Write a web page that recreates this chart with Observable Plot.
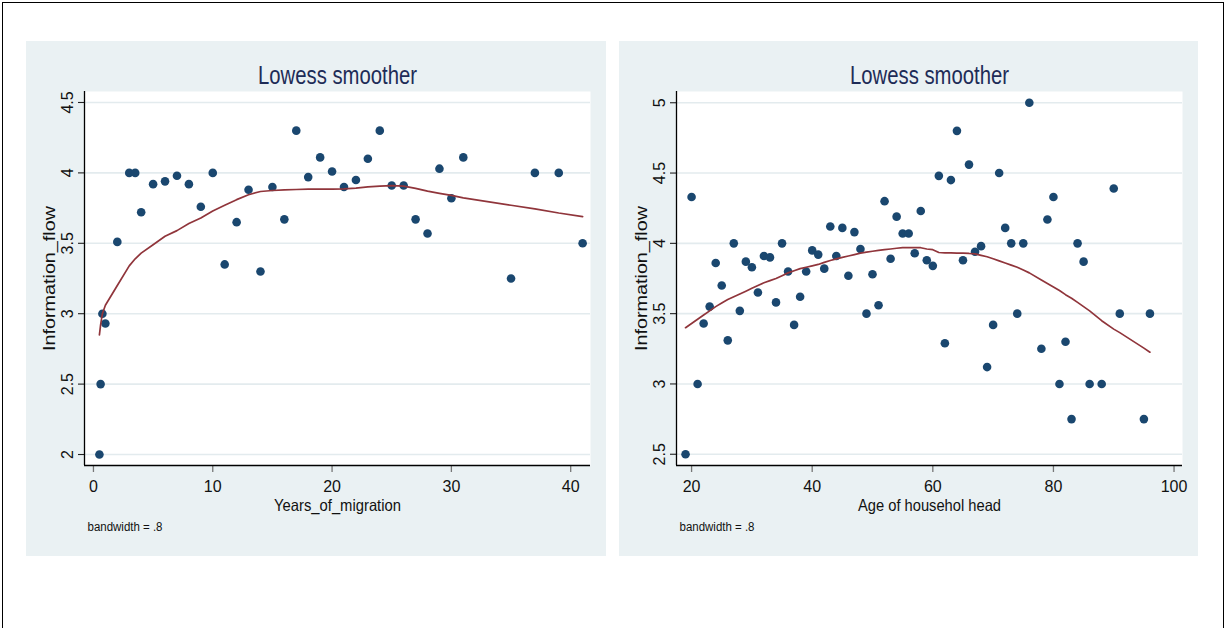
<!DOCTYPE html>
<html>
<head>
<meta charset="utf-8">
<script src="https://cdn.jsdelivr.net/npm/d3@7"></script>
<script src="https://cdn.jsdelivr.net/npm/@observablehq/plot@0.6"></script>
<style>
  html, body { margin: 0; padding: 0; background: #fff; }
  #page { position: relative; width: 1225px; height: 628px; overflow: hidden; }
  #frame { position: absolute; left: 2px; top: 2px; width: 1220px; height: 640px; border: 1px solid #000; }
  .panel { position: absolute; top: 41px; }
  #left { left: 26px; }
  #right { left: 619px; }
  .panel svg { display: block; }
</style>
</head>
<body>
<div id="page">
  <div id="frame"></div>
  <div class="panel" id="left"></div>
  <div class="panel" id="right"></div>
</div>
<script>
// ---- Left panel data: Years_of_migration vs Information_flow ----
const years = [0.5, 0.6, 0.75, 1, 2, 3, 3.5, 4, 5, 6, 7, 8, 9, 10, 11, 12, 13, 14, 15, 16, 17, 18, 19, 20, 21, 22, 23, 24, 25, 26, 27, 28, 29, 30, 31, 35, 37, 39, 41];
const flowA = [2.0, 2.5, 3.0, 2.93, 3.51, 4.0, 4.0, 3.72, 3.92, 3.94, 3.98, 3.92, 3.76, 4.0, 3.35, 3.65, 3.88, 3.3, 3.9, 3.67, 4.3, 3.97, 4.11, 4.01, 3.9, 3.95, 4.1, 4.3, 3.91, 3.91, 3.67, 3.57, 4.03, 3.82, 4.11, 3.25, 4.0, 4.0, 3.5];
const lowessA = [2.85, 2.92, 3.0, 3.06, 3.2, 3.34, 3.39, 3.43, 3.49, 3.55, 3.59, 3.64, 3.68, 3.73, 3.77, 3.81, 3.845, 3.868, 3.875, 3.88, 3.882, 3.884, 3.884, 3.884, 3.886, 3.892, 3.9, 3.906, 3.91, 3.906, 3.89, 3.87, 3.855, 3.84, 3.823, 3.77, 3.745, 3.715, 3.69];
const xTicksA = [0, 10, 20, 30, 40];
const yTicksA = [2, 2.5, 3, 3.5, 4, 4.5];
const xDomainA = [-0.75, 41.66];
const yDomainA = [1.922, 4.578];

// ---- Right panel data: Age of househol head vs Information_flow ----
const age = [19, 20, 21, 22, 23, 24, 25, 26, 27, 28, 29, 30, 31, 32, 33, 34, 35, 36, 37, 38, 39, 40, 41, 42, 43, 44, 45, 46, 47, 48, 49, 50, 51, 52, 53, 54, 55, 56, 57, 58, 59, 60, 61, 62, 63, 64, 65, 66, 67, 68, 69, 70, 71, 72, 73, 74, 75, 76, 78, 79, 80, 81, 82, 83, 84, 85, 86, 88, 90, 91, 95, 96];
const flowB = [2.5, 4.33, 3.0, 3.43, 3.55, 3.86, 3.7, 3.31, 4.0, 3.52, 3.87, 3.83, 3.65, 3.91, 3.9, 3.58, 4.0, 3.8, 3.42, 3.62, 3.8, 3.95, 3.92, 3.82, 4.12, 3.91, 4.11, 3.77, 4.08, 3.96, 3.5, 3.78, 3.56, 4.3, 3.89, 4.19, 4.07, 4.07, 3.93, 4.23, 3.88, 3.84, 4.48, 3.29, 4.45, 4.8, 3.88, 4.56, 3.94, 3.98, 3.12, 3.42, 4.5, 4.11, 4.0, 3.5, 4.0, 5.0, 3.25, 4.17, 4.33, 3.0, 3.3, 2.75, 4.0, 3.87, 3.0, 3.0, 4.39, 3.5, 2.75, 3.5];
const lowessB = [3.4, 3.43, 3.46, 3.49, 3.52, 3.55, 3.575, 3.6, 3.62, 3.64, 3.66, 3.68, 3.7, 3.72, 3.735, 3.75, 3.77, 3.79, 3.805, 3.82, 3.83, 3.84, 3.85, 3.865, 3.878, 3.89, 3.9, 3.91, 3.92, 3.93, 3.937, 3.944, 3.95, 3.955, 3.96, 3.965, 3.969, 3.97, 3.97, 3.969, 3.96, 3.955, 3.935, 3.932, 3.932, 3.93, 3.93, 3.928, 3.925, 3.915, 3.905, 3.89, 3.875, 3.86, 3.845, 3.83, 3.81, 3.79, 3.74, 3.715, 3.69, 3.665, 3.635, 3.61, 3.58, 3.55, 3.52, 3.45, 3.39, 3.365, 3.255, 3.226];
const xTicksB = [20, 40, 60, 80, 100];
const yTicksB = [2.5, 3, 3.5, 4, 4.5, 5];
const xDomainB = [17.5, 101.4];
const yDomainB = [2.42, 5.08];

const titleText = "Lowess smoother";
const yLabel = "Information_flow";
const noteText = "bandwidth = .8";

const FONT = "'Liberation Sans', Arial, sans-serif";
const NAVY = "#1a476f";
const MAROON = "#90353b";
const GRID = "#e3ebee";
const PANEL_BG = "#eaf1f3";

function fitText(svg, content, length) {
  d3.select(svg).selectAll("text").filter(function() { return this.textContent === content; })
    .attr("textLength", length).attr("lengthAdjust", "spacingAndGlyphs");
}

function panel({xs, ys, ls, xTicks, yTicks, xDomain, yDomain, xLabel, xLabelLen, marginLeft, width}) {
  const pts = xs.map((x, i) => ({x, y: ys[i]}));
  const curve = xs.map((x, i) => ({x, y: ls[i]}));
  const yFmt = d => String(d);
  const svg = Plot.plot({
    width, height: 515,
    marginLeft, marginRight: 16, marginTop: 50, marginBottom: 91,
    style: {background: PANEL_BG, fontFamily: FONT, overflow: "visible"},
    x: {domain: xDomain, ticks: xTicks},
    y: {domain: yDomain, ticks: yTicks},
    marks: [
      Plot.frame({fill: "white", stroke: null}),
      Plot.ruleY(yTicks, {stroke: GRID, strokeWidth: 1.6}),
      Plot.axisX({ticks: xTicks, tickSize: 7, tickPadding: 8, fontSize: 16, stroke: "#777", strokeWidth: 1.3, fill: "#111", label: null}),
      Plot.axisY({ticks: yTicks, tickSize: 6, tickFormat: () => "", stroke: "#222", strokeWidth: 1.1, label: null}),
      Plot.text(yTicks, {y: d => d, text: yFmt, frameAnchor: "left", textAnchor: "middle", lineAnchor: "middle", rotate: -90, dx: -17, fontSize: 16, fill: "#111"}),
      Plot.ruleY([yDomain[0]], {stroke: "#000", strokeWidth: 1.3}),
      Plot.ruleX([xDomain[0]], {stroke: "#000", strokeWidth: 1.3}),
      Plot.dot(pts, {x: "x", y: "y", r: 4.3, fill: NAVY, stroke: null}),
      Plot.line(curve, {x: "x", y: "y", stroke: MAROON, strokeWidth: 1.7}),
      Plot.text([titleText], {frameAnchor: "top", textAnchor: "middle", lineAnchor: "middle", dy: -16, fontSize: 25, fill: "#1e2c57"}),
      Plot.text([yLabel], {frameAnchor: "left", textAnchor: "middle", lineAnchor: "middle", rotate: -90, dx: -35, fontSize: 17, fill: "#111"}),
      Plot.text([xLabel], {frameAnchor: "bottom", textAnchor: "middle", lineAnchor: "middle", dy: 40, fontSize: 16.5, fill: "#111"}),
      Plot.text([noteText], {frameAnchor: "bottom-left", textAnchor: "start", lineAnchor: "middle", dx: 3, dy: 62, fontSize: 12, fill: "#111"})
    ]
  });
  fitText(svg, titleText, 159);
  fitText(svg, yLabel, 145);
  fitText(svg, xLabel, xLabelLen);
  fitText(svg, noteText, 75);
  return svg;
}

document.getElementById("left").append(panel({
  xs: years, ys: flowA, ls: lowessA, xTicks: xTicksA, yTicks: yTicksA,
  xDomain: xDomainA, yDomain: yDomainA, xLabel: "Years_of_migration", xLabelLen: 127, marginLeft: 58, width: 580
}));
document.getElementById("right").append(panel({
  xs: age, ys: flowB, ls: lowessB, xTicks: xTicksB, yTicks: yTicksB,
  xDomain: xDomainB, yDomain: yDomainB, xLabel: "Age of househol head", xLabelLen: 143, marginLeft: 57, width: 579
}));
</script>
</body>
</html>
